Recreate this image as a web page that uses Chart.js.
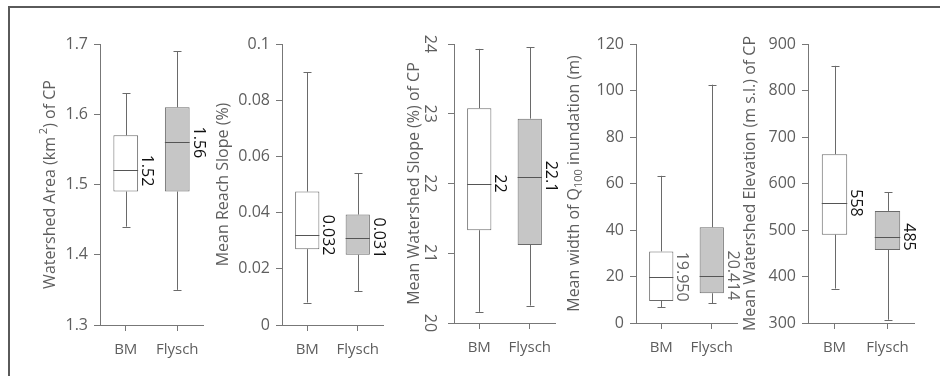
<!DOCTYPE html>
<html>
<head>
<meta charset="utf-8">
<script src="https://cdn.jsdelivr.net/npm/chart.js@4.4.1/dist/chart.umd.min.js"></script>
<style>
  html, body { margin: 0; padding: 0; background: #fff; }
  #fig { position: relative; width: 940px; height: 376px; overflow: hidden; }
  #frame { position: absolute; left: 8px; top: 6px; width: 940px; height: 380px;
           border-top: 2px solid #5a5a5a; border-left: 2px solid #5a5a5a; }
  .panel { position: absolute; top: 0; height: 376px; }
</style>
</head>
<body>
<div id="fig"><div id="frame"></div></div>
<script>
const groups = ['BM', 'Flysch'];

// box statistics per group: [min, q1, median, q3, max]
const area = [[1.44, 1.49, 1.52, 1.57, 1.63], [1.35, 1.49, 1.56, 1.61, 1.69]];
const reachSlope = [[0.008, 0.027, 0.032, 0.0475, 0.09], [0.012, 0.025, 0.031, 0.0393, 0.054]];
const watershedSlope = [[20.16, 21.33, 22, 23.08, 23.93], [20.25, 21.12, 22.1, 22.93, 23.95]];
const inundation = [[6.7, 9.5, 19.95, 30.8, 63.3], [8.5, 12.8, 20.414, 41.2, 102.5]];
const elevation = [[374, 490, 558, 663, 853], [307, 457, 485, 541, 581]];

// median labels printed next to the boxes
const areaLabels = ['1.52', '1.56'];
const reachSlopeLabels = ['0.032', '0.031'];
const watershedSlopeLabels = ['22', '22.1'];
const inundationLabels = ['19.950', '20.414'];
const elevationLabels = ['558', '485'];

// y tick values
const areaTicks = [1.3, 1.4, 1.5, 1.6, 1.7];
const reachSlopeTicks = [0, 0.02, 0.04, 0.06, 0.08, 0.1];
const watershedSlopeTicks = [20, 21, 22, 23, 24];
const inundationTicks = [0, 20, 40, 60, 80, 100, 120];
const elevationTicks = [300, 400, 500, 600, 700, 800, 900];

// axis titles, split where super/subscripts occur
const areaTitle = [['Watershed Area (km'], [' 2', 'sup'], [') of CP']];
const reachSlopeTitle = [['Mean Reach Slope (%)']];
const watershedSlopeTitle = [['Mean Watershed Slope (%) of CP']];
const inundationTitle = [['Mean width of Q'], ['100', 'sub'], [' inundation (m)']];
const elevationTitle = [['Mean Watershed Elevation (m s.l.) of CP']];

const FONT = '"Open Sans", sans-serif';
const AXIS = '#777777';
const TEXT = '#5e5e5e';
const Y_W = 80;      // reserved width for y axis + title
const R_PAD = 40;    // room on the right for the median labels

const panels = [
  { stats: area, labels: areaLabels, ticks: areaTicks, title: areaTitle,
    left: 100, right: 203, bottom: 325, titleDx: -50, labelColor: '#111' },
  { stats: reachSlope, labels: reachSlopeLabels, ticks: reachSlopeTicks, title: reachSlopeTitle,
    left: 282, right: 383, bottom: 325, titleDx: -59, labelColor: '#111' },
  { stats: watershedSlope, labels: watershedSlopeLabels, ticks: watershedSlopeTicks, title: watershedSlopeTitle,
    left: 454, right: 555, bottom: 323, titleDx: -40, labelColor: '#111', rotateTicks: true },
  { stats: inundation, labels: inundationLabels, ticks: inundationTicks, title: inundationTitle,
    left: 636, right: 737, bottom: 323, titleDx: -62, labelColor: '#666' },
  { stats: elevation, labels: elevationLabels, ticks: elevationTicks, title: elevationTitle,
    left: 808, right: 914, bottom: 323, titleDx: -58, labelColor: '#111' }
];

function drawTitle(ctx, parts, cx, cy) {
  ctx.save();
  ctx.translate(cx, cy);
  ctx.rotate(-Math.PI / 2);
  ctx.fillStyle = TEXT;
  ctx.textAlign = 'left';
  ctx.textBaseline = 'middle';
  const fonts = parts.map(p => p[1] ? '11px ' + FONT : '16px ' + FONT);
  const widths = parts.map((p, i) => { ctx.font = fonts[i]; return ctx.measureText(p[0]).width; });
  let x = -widths.reduce((a, b) => a + b, 0) / 2;
  parts.forEach((p, i) => {
    ctx.font = fonts[i];
    const dy = p[1] === 'sup' ? -6 : p[1] === 'sub' ? 5 : 0;
    ctx.fillText(p[0], x, dy);
    x += widths[i];
  });
  ctx.restore();
}

function boxPlugin(p) {
  return {
    id: 'boxPlot',
    beforeDatasetsDraw(chart) {
      const { ctx, scales: { y } } = chart;
      const bars = chart.getDatasetMeta(0).data;
      ctx.save();
      ctx.strokeStyle = '#6a6a6a';
      ctx.lineWidth = 1;
      bars.forEach((bar, i) => {
        const [mn, q1, , q3, mx] = p.stats[i];
        const x = Math.round(bar.x) + 0.5;
        ctx.beginPath();
        ctx.moveTo(x, y.getPixelForValue(q3));
        ctx.lineTo(x, y.getPixelForValue(mx));
        ctx.moveTo(x, y.getPixelForValue(q1));
        ctx.lineTo(x, y.getPixelForValue(mn));
        [mn, mx].forEach(v => {
          const yy = Math.round(y.getPixelForValue(v)) + 0.5;
          ctx.moveTo(x - 4, yy);
          ctx.lineTo(x + 4, yy);
        });
        ctx.stroke();
      });
      ctx.restore();
    },
    afterDatasetsDraw(chart) {
      const { ctx, scales: { y } } = chart;
      const bars = chart.getDatasetMeta(0).data;
      ctx.save();
      bars.forEach((bar, i) => {
        const ym = y.getPixelForValue(p.stats[i][2]);
        const half = bar.width / 2;
        ctx.strokeStyle = '#555';
        ctx.lineWidth = 1;
        ctx.beginPath();
        ctx.moveTo(bar.x - half, Math.round(ym) + 0.5);
        ctx.lineTo(bar.x + half, Math.round(ym) + 0.5);
        ctx.stroke();

        // median value, written top-to-bottom beside the box
        ctx.save();
        ctx.translate(bar.x + half + 4, ym);
        ctx.rotate(Math.PI / 2);
        ctx.fillStyle = p.labelColor;
        ctx.font = '16px ' + FONT;
        ctx.textAlign = 'center';
        ctx.textBaseline = 'alphabetic';
        ctx.fillText(p.labels[i], 0, 0);
        ctx.restore();
      });
      ctx.restore();
    },
    afterDraw(chart) {
      const { ctx, chartArea, scales: { y } } = chart;
      drawTitle(ctx, p.title, chartArea.left + p.titleDx, (chartArea.top + chartArea.bottom) / 2);
      if (p.rotateTicks) {
        ctx.save();
        ctx.fillStyle = TEXT;
        ctx.font = '16px ' + FONT;
        ctx.textAlign = 'center';
        ctx.textBaseline = 'alphabetic';
        p.ticks.forEach(v => {
          ctx.save();
          ctx.translate(chartArea.left - 29, y.getPixelForValue(v));
          ctx.rotate(Math.PI / 2);
          ctx.fillText(String(v), 0, 0);
          ctx.restore();
        });
        ctx.restore();
      }
    }
  };
}

const fig = document.getElementById('fig');

panels.forEach(p => {
  const div = document.createElement('div');
  div.className = 'panel';
  div.style.left = (p.left - Y_W) + 'px';
  div.style.width = (p.right - p.left + Y_W + R_PAD) + 'px';
  const canvas = document.createElement('canvas');
  div.appendChild(canvas);
  fig.appendChild(div);

  new Chart(canvas, {
    type: 'bar',
    data: {
      labels: groups,
      datasets: [{
        data: p.stats.map(s => [s[1], s[3]]),
        backgroundColor: ['#ffffff', '#c6c6c6'],
        borderColor: '#6a6a6a',
        borderWidth: 1,
        borderSkipped: false,
        barPercentage: 0.48,
        categoryPercentage: 1
      }]
    },
    options: {
      responsive: true,
      maintainAspectRatio: false,
      animation: false,
      layout: { padding: { top: 44, right: R_PAD, left: 0, bottom: 0 } },
      plugins: { legend: { display: false }, tooltip: { enabled: false } },
      scales: {
        x: {
          afterFit: s => { s.height = 376 - p.bottom; },
          border: { color: AXIS, width: 1 },
          grid: { drawOnChartArea: false, drawTicks: true, tickLength: 6, offset: false, color: AXIS },
          ticks: { color: TEXT, font: { family: FONT, size: 15 }, padding: 10 }
        },
        y: {
          min: p.ticks[0],
          max: p.ticks[p.ticks.length - 1],
          afterBuildTicks: s => { s.ticks = p.ticks.map(v => ({ value: v })); },
          afterFit: s => { s.width = Y_W; },
          border: { color: AXIS, width: 1 },
          grid: { drawOnChartArea: false, drawTicks: true, tickLength: 6, color: AXIS },
          ticks: { display: !p.rotateTicks, color: TEXT, font: { family: FONT, size: 16 },
                   padding: 6, callback: v => String(v) }
        }
      }
    },
    plugins: [boxPlugin(p)]
  });
});
</script>
</body>
</html>
